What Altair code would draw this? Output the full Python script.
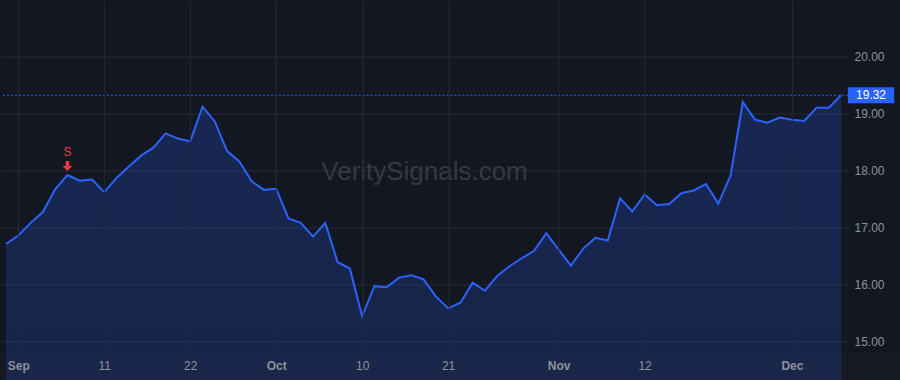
import altair as alt
import pandas as pd

# ---- data ----
dates = [
    "2025-08-29",
    "2025-09-02", "2025-09-03", "2025-09-04", "2025-09-05", "2025-09-08", "2025-09-09",
    "2025-09-10", "2025-09-11", "2025-09-12", "2025-09-15", "2025-09-16", "2025-09-17",
    "2025-09-18", "2025-09-19", "2025-09-22", "2025-09-23", "2025-09-24", "2025-09-25",
    "2025-09-26", "2025-09-29", "2025-09-30",
    "2025-10-01", "2025-10-02", "2025-10-03", "2025-10-06", "2025-10-07", "2025-10-08",
    "2025-10-09", "2025-10-10", "2025-10-13", "2025-10-14", "2025-10-15", "2025-10-16",
    "2025-10-17", "2025-10-20", "2025-10-21", "2025-10-22", "2025-10-23", "2025-10-24",
    "2025-10-27", "2025-10-28", "2025-10-29", "2025-10-30", "2025-10-31",
    "2025-11-03", "2025-11-04", "2025-11-05", "2025-11-06", "2025-11-07", "2025-11-10",
    "2025-11-11", "2025-11-12", "2025-11-13", "2025-11-14", "2025-11-17", "2025-11-18",
    "2025-11-19", "2025-11-20", "2025-11-21", "2025-11-24", "2025-11-25", "2025-11-26",
    "2025-11-28",
    "2025-12-01", "2025-12-02", "2025-12-03", "2025-12-04", "2025-12-05",
]
values = [
    16.71, 16.86, 17.08, 17.27, 17.67, 17.92, 17.82, 17.84, 17.62, 17.87,
    18.07, 18.26, 18.40, 18.65, 18.56, 18.51, 19.12, 18.86, 18.34, 18.16,
    17.81, 17.66, 17.68, 17.16, 17.08, 16.84, 17.08, 16.39, 16.28, 15.44,
    15.97, 15.95, 16.12, 16.16, 16.09, 15.79, 15.58, 15.68, 16.03, 15.89,
    16.15, 16.32, 16.46, 16.59, 16.90, 16.61, 16.33, 16.63, 16.82, 16.77,
    17.51, 17.28, 17.58, 17.39, 17.41, 17.60, 17.65, 17.76, 17.42, 17.91,
    19.20, 18.89, 18.84, 18.93, 18.89, 18.87, 19.10, 19.10, 19.32,
]
tick_dates = ["2025-09-02", "2025-09-11", "2025-09-22", "2025-10-01", "2025-10-10",
              "2025-10-21", "2025-11-03", "2025-11-12", "2025-12-01"]
tick_labels = ["Sep", "11", "22", "Oct", "10", "21", "Nov", "12", "Dec"]
month_ticks = ["Sep", "Oct", "Nov", "Dec"]
y_ticks = [15, 16, 17, 18, 19, 20]
signal_dates = ["2025-09-08"]
signal_labels = ["S"]
watermark = "VeritySignals.com"

# ---- derived tables ----
df = pd.DataFrame({"idx": list(range(len(dates))), "date": dates, "value": values})
tick_idx = [dates.index(d) for d in tick_dates]
sig_df = pd.DataFrame({
    "idx": [dates.index(d) for d in signal_dates],
    "value": [values[dates.index(d)] for d in signal_dates],
    "label": signal_labels,
})
last_df = df.tail(1).assign(label=lambda d: d["value"].map(lambda v: f"{v:.2f}"))

label_expr = "''"
for i, lab in zip(reversed(tick_idx), reversed(tick_labels)):
    label_expr = f"datum.value == {i} ? '{lab}' : ({label_expr})"
bold_idx = [i for i, lab in zip(tick_idx, tick_labels) if lab in month_ticks]
bold_test = " || ".join(f"datum.value == {i}" for i in bold_idx)

BG = "#131722"
BAND = "#161a25"
GRID = "#262a35"
TEXT = "#8e919a"
BLUE = "#2962ff"
RED = "#f23645"
FONT = "Liberation Sans"

xscale = alt.Scale(domain=[-0.41, 68.57], nice=False, zero=False)
yscale = alt.Scale(domain=[14.81, 20.98], nice=False, zero=False)
xaxis = alt.Axis(values=tick_idx, labelExpr=label_expr, title=None, grid=True,
                 gridColor=GRID, domain=False, ticks=False, labelPadding=8,
                 labelColor=TEXT, labelFontSize=12, labelFont=FONT, zindex=1,
                 labelFontWeight={"condition": {"test": bold_test, "value": "bold"}, "value": "normal"})
yaxis = alt.Axis(orient="right", values=y_ticks, format=".2f", title=None, grid=True,
                 gridColor=GRID, domain=False, ticks=False, labelPadding=6,
                 labelColor=TEXT, labelFontSize=12, labelFont=FONT)

X = alt.X("idx:Q", scale=xscale, axis=xaxis)
Y = alt.Y("value:Q", scale=yscale, axis=yaxis)

base = alt.Chart(df)

band = alt.Chart(pd.DataFrame({"k": [0]})).mark_rect(color=BAND).encode(
    x=alt.value(0), x2=alt.value(900), y=alt.value(352), y2=alt.value(380))

area = base.mark_area(
    color={"gradient": "linear", "x1": 1, "x2": 1, "y1": 0, "y2": 1,
           "stops": [{"offset": 0, "color": "rgba(41,98,255,0.22)"},
                     {"offset": 1, "color": "rgba(41,98,255,0.03)"}]}
).encode(x=X, y=Y)

line = base.mark_line(color=BLUE, strokeWidth=2).encode(x=X, y=Y)

last_rule = alt.Chart(last_df).mark_rule(color=BLUE, strokeWidth=1, strokeDash=[2, 2]).encode(y=Y)

wm = alt.Chart(pd.DataFrame({"t": [watermark]})).mark_text(
    font=FONT, fontSize=26, color="#353944", align="center", baseline="middle"
).encode(text="t:N", x=alt.value(424), y=alt.value(172))

arrow_path = "M-0.35,-2.8 L0.35,-2.8 L0.35,-1.8 L1,-1.8 L0,-0.8 L-1,-1.8 L-0.35,-1.8 Z"
sig_arrow = alt.Chart(sig_df).mark_point(shape=arrow_path, filled=True, color=RED,
                                         opacity=1, size=100, strokeWidth=0).encode(x=X, y=Y)
sig_text = alt.Chart(sig_df).mark_text(font=FONT, fontSize=12, color=RED, dy=-23,
                                       baseline="middle").encode(x=X, y=Y, text="label:N")

box_path = "M-2.9,-1 L2.9,-1 L2.9,1 L-2.9,1 Z"
price_box = alt.Chart(last_df).mark_point(shape=box_path, filled=True, color=BLUE,
                                          opacity=1, size=256, strokeWidth=0).encode(
    x=alt.value(871), y=Y)
price_text = alt.Chart(last_df).mark_text(font=FONT, fontSize=12, color="white",
                                          align="center", baseline="middle").encode(
    x=alt.value(871), y=Y, text="label:N")

chart = alt.layer(band, area, line, last_rule, wm, sig_arrow, sig_text, price_box, price_text).properties(
    width=848, height=352, background=BG, padding=0
).configure_view(strokeWidth=0, fill=BG)

chart.save("out.html", embed_options={"renderer": "svg", "actions": False})
